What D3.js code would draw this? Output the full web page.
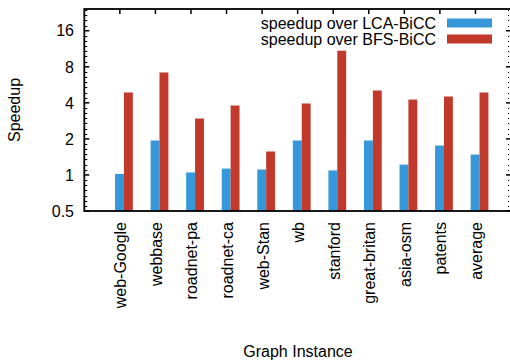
<!DOCTYPE html>
<html><head><meta charset="utf-8">
<script src="https://cdn.jsdelivr.net/npm/d3@7"></script>
<style>
html,body{margin:0;padding:0;background:#fff;}
svg{display:block;font-family:"Liberation Sans",Arial,Helvetica,sans-serif;}
</style></head>
<body><svg id="c" width="510" height="362"></svg>
<script>
const categories = ["web-Google","webbase","roadnet-pa","roadnet-ca","web-Stan","wb","stanford","great-britan","asia-osm","patents","average"];
const lcaSpeedup = [1.02, 1.94, 1.05, 1.13, 1.11, 1.94, 1.09, 1.94, 1.22, 1.76, 1.48];
const bfsSpeedup = [4.88, 7.17, 2.96, 3.80, 1.57, 3.95, 10.9, 5.07, 4.26, 4.52, 4.88];
const seriesNames = ["speedup over LCA-BiCC", "speedup over BFS-BiCC"];
const seriesColors = ["#3498db", "#c0392b"];
const yTickValues = [0.5, 1, 2, 4, 8, 16];
const yTickLabels = ["0.5", "1", "2", "4", "8", "16"];

const svg = d3.select("#c");
const L = 84.3, R = 511, T = 9, B = 211;
const x = d3.scaleLinear().domain([-1, 11]).range([L, R]);
const y = d3.scaleLog().base(2).domain([0.5, 24.3]).range([B, T]);

// bars
const bw = 0.25, off0 = -0.135;
const series = [lcaSpeedup, bfsSpeedup];
series.forEach((vals, s) => {
  svg.append("g").selectAll("rect").data(vals).join("rect")
    .attr("x", (d, i) => x(i + off0 + s * bw))
    .attr("width", (d, i) => x(i + off0 + (s + 1) * bw) - x(i + off0 + s * bw))
    .attr("y", d => y(d))
    .attr("height", d => y(0.5) - y(d))
    .attr("fill", seriesColors[s]);
});

// minor ticks (evenly spaced in log, 7 intervals per octave)
const minor = [];
for (let e = -1; e < 5; e++) {
  for (let k = 1; k < 7; k++) {
    const v = Math.pow(2, e + k / 7);
    if (v < 24.3) minor.push(v);
  }
}
minor.push(...[1,2,3,4].map(k => Math.pow(2, 5 + k / 7)).filter(v => v < 24.3));

const axisG = svg.append("g").attr("stroke", "#000");
// left minor
axisG.selectAll("line.lm").data(minor).join("line")
  .attr("x1", L).attr("x2", L + 3).attr("y1", d => Math.round(y(d)) + 0.5).attr("y2", d => Math.round(y(d)) + 0.5)
  .attr("stroke-width", 1);
// left major
axisG.selectAll("line.lM").data(yTickValues).join("line")
  .attr("x1", L).attr("x2", L + 5).attr("y1", d => y(d)).attr("y2", d => y(d))
  .attr("stroke-width", 1.5);
// right minor
axisG.selectAll("line.rm").data(minor).join("line")
  .attr("x1", R - 3).attr("x2", R).attr("y1", d => Math.round(y(d)) + 0.5).attr("y2", d => Math.round(y(d)) + 0.5)
  .attr("stroke-width", 1).attr("stroke-dasharray", "1,1");
axisG.selectAll("line.rM").data(yTickValues).join("line")
  .attr("x1", R - 5).attr("x2", R).attr("y1", d => y(d)).attr("y2", d => y(d))
  .attr("stroke-width", 1.5);
// top ticks
axisG.selectAll("line.t").data(categories).join("line")
  .attr("x1", (d, i) => x(i)).attr("x2", (d, i) => x(i))
  .attr("y1", T).attr("y2", T + 5).attr("stroke-width", 1.5);

// border
svg.append("rect").attr("x", L).attr("y", T).attr("width", R - L).attr("height", B - T)
  .attr("fill", "none").attr("stroke", "#000").attr("stroke-width", 1.8);

// y tick labels
svg.append("g").selectAll("text").data(yTickValues).join("text")
  .attr("x", 74).attr("y", d => y(d)).attr("dy", "0.36em")
  .attr("text-anchor", "end").attr("font-size", 16).attr("fill", "#000")
  .text((d, i) => yTickLabels[i]);

// x labels
svg.append("g").selectAll("text").data(categories).join("text")
  .attr("transform", (d, i) => `translate(${x(i) + 6.5},222) rotate(-90)`)
  .attr("text-anchor", "end").attr("font-size", 16).attr("fill", "#000")
  .text(d => d);

// axis titles
svg.append("text").attr("transform", "translate(20,110) rotate(-90)")
  .attr("text-anchor", "middle").attr("font-size", 16).text("Speedup");
svg.append("text").attr("x", 298).attr("y", 357)
  .attr("text-anchor", "middle").attr("font-size", 16).text("Graph Instance");

// legend
const lg = svg.append("g");
seriesNames.forEach((n, s) => {
  const cy = 23 + s * 16;
  lg.append("text").attr("x", 436).attr("y", cy).attr("dy", "0.36em")
    .attr("text-anchor", "end").attr("font-size", 16).text(n);
  lg.append("rect").attr("x", 447).attr("y", cy - 4.5).attr("width", 45).attr("height", 9)
    .attr("fill", seriesColors[s]);
});
</script></body></html>
